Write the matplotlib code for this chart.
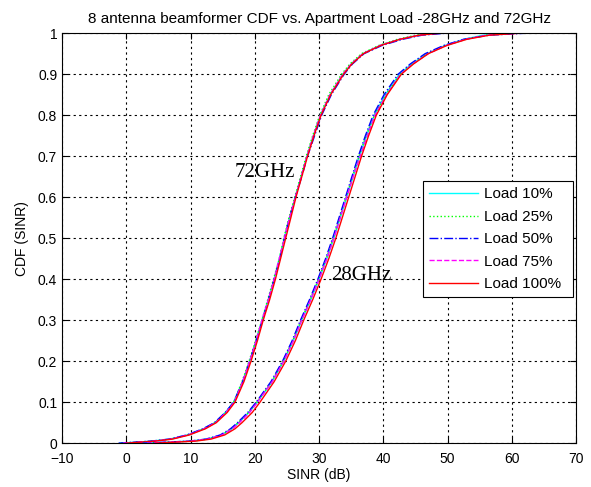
import matplotlib
matplotlib.use("Agg")
import matplotlib.pyplot as plt

plt.rcParams['font.family'] = ['Liberation Sans', 'DejaVu Sans']

cdf_levels = [0, 0.005, 0.01, 0.02, 0.035, 0.05, 0.075, 0.1, 0.15, 0.2,
              0.25, 0.3, 0.35, 0.4, 0.45, 0.5, 0.55, 0.6, 0.65, 0.7,
              0.75, 0.8, 0.85, 0.9, 0.925, 0.95, 0.97, 0.985, 0.995, 1.0]

load_labels = ["Load 10%", "Load 25%", "Load 50%", "Load 75%", "Load 100%"]

# SINR (dB), per load
sinr_72 = {
    "Load 10%":  [-1.0, 4.0, 6.8, 9.5, 12.0, 13.8, 15.4, 16.7, 18.1, 19.2,
                  20.2, 21.1, 22.1, 23.0, 23.8, 24.6, 25.4, 26.3, 27.2, 28.1,
                  29.1, 30.2, 31.7, 33.7, 35.0, 36.8, 39.5, 42.5, 45.5, 48.0],
    "Load 25%":  [-0.8, 4.2, 6.9, 9.6, 12.1, 13.8, 15.5, 16.7, 18.0, 19.1,
                  20.1, 21.1, 22.0, 22.9, 23.8, 24.5, 25.3, 26.2, 27.1, 28.0,
                  29.0, 30.1, 31.5, 33.5, 34.8, 36.6, 39.3, 42.2, 45.0, 47.5],
    "Load 50%":  [-1.2, 3.8, 6.7, 9.4, 11.9, 13.7, 15.4, 16.7, 18.1, 19.2,
                  20.2, 21.2, 22.1, 23.0, 23.9, 24.6, 25.4, 26.3, 27.3, 28.2,
                  29.3, 30.4, 31.9, 33.9, 35.2, 37.0, 39.8, 43.0, 46.0, 50.0],
    "Load 75%":  [-0.5, 4.3, 7.0, 9.6, 12.1, 13.9, 15.5, 16.8, 18.1, 19.2,
                  20.2, 21.1, 22.1, 23.0, 23.8, 24.6, 25.4, 26.3, 27.2, 28.1,
                  29.1, 30.2, 31.7, 33.7, 35.0, 36.8, 39.5, 42.5, 45.5, 48.5],
    "Load 100%": [0.0, 4.5, 7.2, 9.8, 12.3, 14.0, 15.7, 16.9, 18.3, 19.4,
                  20.4, 21.3, 22.3, 23.2, 24.0, 24.8, 25.6, 26.4, 27.3, 28.2,
                  29.2, 30.3, 31.8, 33.8, 35.1, 36.9, 39.6, 42.6, 45.6, 49.0],
}

sinr_28 = {
    "Load 10%":  [3.0, 10.0, 12.6, 14.8, 16.4, 17.5, 19.1, 20.4, 22.7, 24.5,
                  26.0, 27.3, 28.7, 30.0, 31.2, 32.3, 33.3, 34.3, 35.3, 36.3,
                  37.4, 38.6, 40.3, 42.5, 44.4, 46.8, 49.6, 52.5, 55.5, 60.0],
    "Load 25%":  [3.5, 10.2, 12.7, 14.9, 16.3, 17.4, 19.0, 20.3, 22.6, 24.4,
                  25.9, 27.2, 28.6, 29.9, 31.1, 32.2, 33.2, 34.2, 35.2, 36.2,
                  37.3, 38.6, 40.4, 42.6, 44.6, 46.9, 49.7, 52.8, 56.0, 60.5],
    "Load 50%":  [2.5, 9.8, 12.4, 14.6, 16.2, 17.3, 18.9, 20.2, 22.5, 24.3,
                  25.8, 27.1, 28.5, 29.8, 31.0, 32.1, 33.1, 34.1, 35.1, 36.1,
                  37.2, 38.4, 40.1, 42.3, 44.2, 46.5, 49.4, 52.5, 56.5, 62.5],
    "Load 75%":  [3.2, 10.1, 12.7, 14.9, 16.5, 17.6, 19.2, 20.4, 22.7, 24.5,
                  26.0, 27.3, 28.7, 30.0, 31.2, 32.3, 33.3, 34.3, 35.3, 36.4,
                  37.5, 38.7, 40.5, 42.7, 44.6, 47.0, 49.8, 52.8, 56.0, 61.0],
    "Load 100%": [4.5, 10.8, 13.2, 15.3, 16.9, 18.0, 19.6, 20.8, 23.0, 24.8,
                  26.3, 27.6, 29.0, 30.3, 31.5, 32.6, 33.6, 34.6, 35.6, 36.6,
                  37.7, 38.9, 40.6, 42.8, 44.7, 47.0, 49.9, 53.0, 56.5, 61.5],
}

colors = ["#00ffff", "#00ff00", "#0000ff", "#ff00ff", "#ff0000"]
styles = ["-", ":", "-.", "--", "-"]


def main():
    fig = plt.figure(figsize=(5.91, 4.87), dpi=100)
    ax = fig.add_axes([0.105, 0.090, 0.870, 0.842])

    for lab, c, ls in zip(load_labels, colors, styles):
        ax.plot(sinr_72[lab], cdf_levels, color=c, linestyle=ls, linewidth=1.0, label=lab)
    for lab, c, ls in zip(load_labels, colors, styles):
        ax.plot(sinr_28[lab], cdf_levels, color=c, linestyle=ls, linewidth=1.0)

    ax.set_xlim(-10, 70)
    ax.set_ylim(0, 1)
    ax.set_xticks(range(-10, 71, 10))
    ax.set_yticks([i / 10 for i in range(11)])
    ax.set_yticklabels(["0", "0.1", "0.2", "0.3", "0.4", "0.5", "0.6", "0.7", "0.8", "0.9", "1"])
    ax.tick_params(direction="in", labelsize=10, length=4, top=True, right=True)
    ax.tick_params(axis="x", pad=6)
    ax.grid(True, color="black", linestyle=(0, (2, 3)), linewidth=0.8)
    for s in ax.spines.values():
        s.set_linewidth(0.8)

    ax.set_xlabel("SINR (dB)", fontsize=10, labelpad=2)
    ax.set_ylabel("CDF (SINR)", fontsize=10, labelpad=6)
    ax.set_title("8 antenna beamformer CDF vs. Apartment Load -28GHz and 72GHz", fontsize=11, pad=7)

    ax.text(16.9, 0.66, "72GHz", family=["Liberation Serif", "DejaVu Serif"], fontsize=15, va="center")
    ax.text(31.9, 0.41, "28GHz", family=["Liberation Serif", "DejaVu Serif"], fontsize=15, va="center")

    leg = ax.legend(loc="lower left", bbox_to_anchor=(0.702, 0.356, 0.292, 0.288), mode="expand",
                    fontsize=11, frameon=True, fancybox=False, edgecolor="black",
                    handlelength=3.2, handletextpad=0.4, borderaxespad=0, labelspacing=0.55)
    leg.get_frame().set_linewidth(0.8)
    leg.get_frame().set_alpha(1)

    fig.savefig("out.png", dpi=100)


if __name__ == "__main__":
    main()
